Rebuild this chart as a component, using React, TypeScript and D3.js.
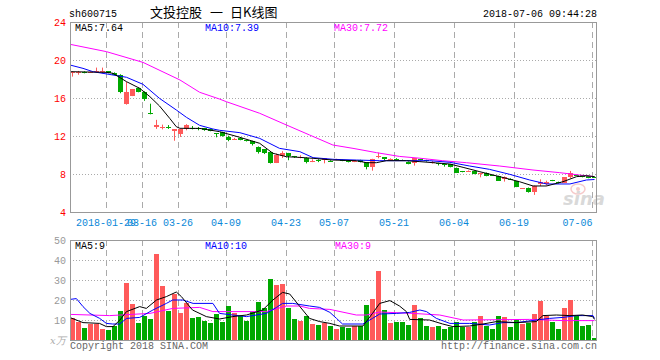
import React from "react";
import * as d3 from "d3";

// ---- data ----
const openP = [18.6,18.65,18.72,18.7,18.75,18.75,18.8,18.65,18.4,15.35,16.25,17.05,16.6,14.45,12.9,12.9,13.0,12.56,12.21,12.7,12.85,12.8,12.8,12.75,12.28,12.39,11.93,11.65,11.82,11.58,11.47,10.88,10.6,10.32,9.19,9.93,10.2,9.89,9.78,9.72,9.37,9.5,9.5,9.4,9.5,9.45,9.4,9.3,9.47,9.23,8.7,9.82,9.75,9.5,9.62,9.5,9.3,9.19,9.56,9.47,9.2,9.15,9.05,9.04,8.6,8.28,8.3,8.32,8.04,8.14,7.88,7.8,7.44,7.5,7.23,6.47,6.56,6.14,6.91,6.91,7.32,7.19,7.09,7.65,7.88,7.86,7.75,7.7];
const highP = [18.8,18.85,18.8,18.8,19.2,19.2,18.82,18.7,18.5,17.7,16.95,17.1,16.7,15.4,13.7,13.2,13.15,12.72,12.7,13.25,13.05,12.95,12.85,12.8,12.3,12.45,12.03,11.8,11.85,11.6,11.5,10.9,10.62,10.4,10.15,10.4,10.22,9.9,9.98,9.75,9.55,9.55,9.65,9.45,9.6,9.5,9.42,9.4,9.5,9.25,9.6,10.25,9.78,9.65,9.66,9.52,9.32,9.68,9.6,9.5,9.38,9.18,9.08,9.06,8.68,8.32,8.38,8.35,8.12,8.16,7.92,7.82,7.75,7.55,7.25,6.52,6.58,6.78,7.44,7.3,7.38,7.2,7.66,8.32,7.92,7.9,7.8,7.75];
const lowP = [18.25,18.45,18.6,18.65,18.7,18.6,18.6,18.4,16.5,15.3,16.2,16.6,15.7,14.28,12.75,12.7,12.75,11.5,11.9,12.6,12.7,12.6,12.55,12.5,11.86,11.93,11.45,11.58,11.55,11.42,11.0,10.15,10.1,9.1,9.15,9.68,9.45,9.7,9.65,9.12,9.25,9.25,9.12,9.3,9.45,9.35,9.22,9.25,9.22,8.49,8.35,9.65,9.4,9.45,9.5,9.4,9.02,8.88,9.45,9.3,9.1,8.9,8.77,8.7,8.1,8.18,8.25,7.98,7.65,7.76,7.8,7.28,7.2,7.42,6.62,6.45,6.04,5.8,6.74,6.77,7.25,7.0,7.08,7.55,7.8,7.65,7.55,7.58];
const closeP = [18.75,18.75,18.68,18.78,18.8,18.8,18.65,18.45,16.6,16.6,16.9,16.65,15.9,14.35,13.2,13.0,12.95,12.7,12.7,13.15,12.75,12.7,12.6,12.56,12.22,12.0,11.58,11.7,11.58,11.47,11.16,10.35,10.25,9.19,10.0,10.25,9.85,9.75,9.82,9.3,9.4,9.45,9.65,9.37,9.55,9.4,9.26,9.35,9.26,8.7,9.58,9.93,9.61,9.55,9.58,9.45,9.08,9.65,9.5,9.33,9.25,9.12,8.91,8.74,8.14,8.24,8.33,8.0,8.08,7.8,7.85,7.3,7.72,7.46,6.67,6.5,6.14,6.77,7.12,7.16,7.28,7.02,7.65,8.07,7.84,7.68,7.6,7.62];
const volume = [11.2,9.2,6.2,8.2,8.2,5.7,5.2,7.2,14.7,28.7,18,8.7,12.2,10.7,43.2,27.2,14.7,23.2,13.7,18.7,11.2,11.7,9.7,8.7,13.2,9.2,17.2,13.7,12.2,9.7,14.2,19.2,16.2,30.7,27.7,28.2,16.2,10.7,9.7,12.2,8.2,7.7,8.7,7.2,5.7,6.7,6.2,7.2,7.2,17.7,20.7,34.7,15.2,8.7,9.2,9.2,7.7,17.7,11.2,7.2,6.7,7.2,5.7,6.7,9.2,6.7,6.7,9.2,12.2,7.2,5.7,12.2,11.7,6.7,10.2,8.2,8.7,13.2,19.7,12.2,9.2,5.7,16.2,20.2,12.2,7.2,7.7,1.2];

// moving-average lines as [day index, value]
const ma5Price: [number, number][] = [[-0.4,18.77],[5.65,18.7],[6.75,18.6],[9,17.72],[11.2,17.02],[12.9,16.14],[14.5,15.16],[16.2,13.86],[17.3,12.98],[17.9,12.81],[21.2,12.8],[24.5,12.46],[27.9,11.86],[31.2,11.23],[33.4,10.18],[35.65,9.82],[37.9,9.75],[40.1,9.65],[43.4,9.47],[47.3,9.4],[49,9.19],[50.65,9.19],[52.3,9.4],[55.65,9.4],[57.9,9.3],[62.9,9.05],[65.1,8.7],[67.9,8.24],[71.2,7.72],[74.5,7.19],[76.75,6.74],[79,6.74],[81.75,7.19],[84,7.72],[85.65,7.82],[87,7.72]];
const ma10Price: [number, number][] = [[-0.4,19.47],[1.75,19.12],[3.4,18.77],[6.75,18.42],[9,18.18],[11.75,17.44],[14.5,15.96],[17.3,14.74],[19,13.96],[21.2,13.12],[23.4,12.74],[24.5,12.6],[27.9,12.35],[31.2,11.75],[34.5,10.7],[37.9,10.35],[40.1,9.72],[43.6,9.54],[47.3,9.47],[51.2,9.4],[56.75,9.4],[59.5,9.4],[62.9,9.23],[66.2,8.84],[69.5,8.49],[72.9,7.96],[76.2,7.37],[79,6.95],[82.9,6.95],[85.65,7.37],[87,7.42]];
const ma30Price: [number, number][] = [[-0.4,21.65],[5.65,20.88],[11.75,19.75],[17.9,17.9],[21.2,16.6],[24.5,15.89],[25.65,15.61],[31.2,14.39],[35.65,13.16],[39.5,12.11],[43.4,11.05],[46.75,10.7],[50.65,10.25],[54.5,9.85],[57.9,9.66],[61.7,9.4],[65.65,9.19],[71.2,8.84],[76.75,8.42],[81.2,8.14],[84.5,7.89],[87,7.72]];
const ma5Vol: [number, number][] = [[-0.4,11.2],[1.75,8.7],[4.5,8.3],[5.65,6.7],[6.75,6.7],[7.9,10],[9,14.2],[11.2,16.7],[12.3,15.8],[14,20],[15.65,21.7],[17.3,24],[18.15,21.7],[20,15],[22.3,11.7],[24.5,10.5],[26.7,11.7],[29,12.5],[31.7,15],[33.4,20],[35,23.8],[36.2,23],[37.9,16.7],[39.5,10.8],[41.2,9.2],[42.9,8.3],[44.5,7],[48.4,7],[50,13.3],[51.2,18.3],[52.9,19.7],[54.5,17],[55.65,14.2],[56.2,10.3],[59.5,10],[61.7,8],[63.4,6.7],[66.2,7],[68.4,8],[70.65,9.2],[74,8.7],[77.3,9.2],[78.4,12.2],[80.65,12.5],[82.9,12.2],[85,12.5],[86.7,11.7],[87,10.3]];
const ma10Vol: [number, number][] = [[-0.4,20.3],[0.65,20.7],[1.75,16.7],[2.9,13.3],[4.53,10.8],[5.65,8.3],[6.7,8],[7.87,8],[9,10.8],[11.2,11.3],[13.4,15],[15.65,18.3],[16.7,20],[18.4,20],[20.1,18.3],[23.4,18.3],[24.5,13.3],[26.7,12.5],[29,11.7],[32.3,13.3],[34,16.3],[35,18.3],[36.7,18.3],[39.5,17],[41.2,16.3],[42.9,13.8],[44,10.8],[45,8],[48.4,8],[50,10.8],[51.2,13],[54,13.3],[56.2,13.8],[57.9,15],[59,14.2],[60.65,10.8],[62.9,8.3],[66.2,8.3],[69.5,7.5],[71.75,8.7],[74,8.7],[77.3,10],[79.5,10.8],[81.75,11.3],[84,12.2],[86.75,12.2],[87,10.8]];
const ma30Vol: [number, number][] = [[-0.4,12.8],[6.2,12.2],[12.9,13.3],[16.7,15.8],[21.2,16.3],[23.4,14.2],[32.3,14.2],[35.65,17],[37.9,17],[39.5,15.8],[42.9,15.3],[47.3,12.5],[49,12.5],[51.2,14],[56.75,13.3],[61.2,12.5],[65.1,10],[76.2,10.3],[81.75,9.7],[87,9.7]];

const dateTickIdx = [6, 12, 18, 26, 36, 44, 54, 64, 74, 87];
const dateTickLabels = ["2018-01-29", "03-16", "03-26", "04-09", "04-23", "05-07", "05-21", "06-04", "06-19", "07-06"];
const priceTicks = [24, 20, 16, 12, 8, 4];
const volTicks = [50, 40, 30, 20, 10];

const MONO = "'Liberation Mono','DejaVu Sans Mono',monospace";
const CJK = "'Noto Sans CJK SC',sans-serif";
const UP = "#ff5a5a";
const DOWN = "#00a800";

export default function App() {
  const W = 660, H = 360;
  const L = 70, R = 597;
  const pTop = 22, pBot = 212, vTop = 240, vBot = 340;
  const N = closeP.length;
  const x = d3.scaleLinear().domain([0, N]).range([70, 70 + 6 * N]);
  const cx = (i: number) => x(i) + 2.5;
  const yP = d3.scaleLinear().domain([4, 24]).range([pBot, pTop]);
  const yV = d3.scaleLinear().domain([0, 50]).range([vBot, vTop]);
  const lineP = d3.line<[number, number]>().x(d => cx(d[0])).y(d => yP(d[1]));
  const lineV = d3.line<[number, number]>().x(d => cx(d[0])).y(d => yV(d[1]));
  const idx = d3.range(N);

  return (
    <svg width={W} height={H} style={{ position: "absolute", left: 0, top: 0, background: "#fff" }}>
      <defs>
        <clipPath id="cp"><rect x={L} y={pTop} width={R - L} height={pBot - pTop} /></clipPath>
        <clipPath id="cv"><rect x={L} y={vTop} width={R - L} height={vBot - vTop} /></clipPath>
      </defs>
      {/* header */}
      <text x={69} y={17} fontFamily={MONO} fontSize={10} fill="#000">sh600715</text>
      <text x={150} y={17} fontFamily={CJK} fontSize={13} fill="#000">文投控股</text>
      <text x={210} y={17} fontFamily={CJK} fontSize={13} fill="#000">一</text>
      <text x={230} y={17} fontFamily={CJK} fontSize={13} fill="#000">日K线图</text>
      <text x={597} y={17} textAnchor="end" fontFamily={MONO} fontSize={10} fill="#000">2018-07-06 09:44:28</text>

      {/* grids */}
      {priceTicks.filter(t => t !== 24 && t !== 4).map(t => (
        <line key={"ph" + t} x1={L} x2={R} y1={Math.round(yP(t)) + 0.5} y2={Math.round(yP(t)) + 0.5} stroke="#aaa" strokeDasharray="1,2" />
      ))}
      {volTicks.filter(t => t !== 50).map(t => (
        <line key={"vh" + t} x1={L} x2={R} y1={Math.round(yV(t)) + 0.5} y2={Math.round(yV(t)) + 0.5} stroke="#aaa" strokeDasharray="1,2" />
      ))}
      {dateTickIdx.map(i => (
        <g key={"vg" + i}>
          <line x1={x(i) + 0.5} x2={x(i) + 0.5} y1={pTop} y2={pBot} stroke="#aaa" strokeDasharray="6,4" />
          <line x1={x(i) + 0.5} x2={x(i) + 0.5} y1={vTop} y2={vBot} stroke="#aaa" strokeDasharray="6,4" />
        </g>
      ))}

      {/* watermark */}
      <g opacity={0.55}>
        <ellipse cx={578} cy={189} rx={7} ry={5} fill="none" stroke="#f0a0a0" strokeWidth={1.5} />
        <circle cx={578} cy={189} r={2} fill="#f0a0a0" />
        <text x={563} y={205} fontFamily="'DejaVu Sans',sans-serif" fontStyle="italic" fontWeight="bold" fontSize={18} fill="#bbb">sina</text>
      </g>

      {/* candles */}
      <g clipPath="url(#cp)">
        {idx.map(i => {
          const up = closeP[i] >= openP[i];
          const col = up ? UP : DOWN;
          const top = Math.round(yP(Math.max(openP[i], closeP[i])));
          const bot = Math.round(yP(Math.min(openP[i], closeP[i])));
          return (
            <g key={"c" + i}>
              <line x1={cx(i)} x2={cx(i)} y1={yP(highP[i])} y2={yP(lowP[i])} stroke={col} strokeWidth={1} />
              <rect x={x(i)} y={top} width={5} height={Math.max(1, bot - top)} fill={col} />
            </g>
          );
        })}
        <path d={lineP(ma30Price) || ""} fill="none" stroke="#ff00ff" strokeWidth={1} />
        <path d={lineP(ma10Price) || ""} fill="none" stroke="#0000ff" strokeWidth={1} />
        <path d={lineP(ma5Price) || ""} fill="none" stroke="#000" strokeWidth={1} />
      </g>

      {/* volume */}
      <g clipPath="url(#cv)">
        {idx.map(i => {
          const up = closeP[i] >= openP[i];
          const t = Math.round(yV(volume[i]));
          return <rect key={"v" + i} x={x(i)} y={t} width={5} height={vBot - t} fill={up ? UP : DOWN} />;
        })}
        <path d={lineV(ma30Vol) || ""} fill="none" stroke="#ff00ff" strokeWidth={1} />
        <path d={lineV(ma10Vol) || ""} fill="none" stroke="#0000ff" strokeWidth={1} />
        <path d={lineV(ma5Vol) || ""} fill="none" stroke="#000" strokeWidth={1} />
      </g>

      {/* borders */}
      <rect x={L + 0.5} y={pTop + 0.5} width={R - L - 1} height={pBot - pTop} fill="none" stroke="#999" />
      <rect x={L + 0.5} y={vTop + 0.5} width={R - L - 1} height={vBot - vTop} fill="none" stroke="#999" />

      {/* axis labels */}
      {priceTicks.map(t => (
        <text key={"pl" + t} x={66} y={yP(t) + 4} textAnchor="end" fontFamily={MONO} fontSize={10} fill="#ff0000">{t}</text>
      ))}
      {volTicks.map(t => (
        <text key={"vl" + t} x={66} y={yV(t) + 4} textAnchor="end" fontFamily={MONO} fontSize={10} fill="#999">{t}</text>
      ))}
      {dateTickIdx.map((i, k) => {
        const last = k === dateTickIdx.length - 1;
        return (
          <text key={"dl" + i} x={x(i) + (last ? 0.5 : 0)} y={226} textAnchor={last ? "end" : "middle"} fontFamily={MONO} fontSize={10} fill="#0a88d8">{dateTickLabels[k]}</text>
        );
      })}

      {/* legends */}
      <text x={75} y={31} fontFamily={MONO} fontSize={10} fill="#000">MA5:7.64</text>
      <text x={205} y={31} fontFamily={MONO} fontSize={10} fill="#0000ff">MA10:7.39</text>
      <text x={334} y={31} fontFamily={MONO} fontSize={10} fill="#ff00ff">MA30:7.72</text>
      <text x={75} y={249} fontFamily={MONO} fontSize={10} fill="#000">MA5:9</text>
      <text x={205} y={249} fontFamily={MONO} fontSize={10} fill="#0000ff">MA10:10</text>
      <text x={335} y={249} fontFamily={MONO} fontSize={10} fill="#ff00ff">MA30:9</text>

      {/* footer */}
      <text x={50} y={344} fontFamily="'DejaVu Serif',serif" fontStyle="italic" fontSize={10} fill="#aaa">x万</text>
      <text x={70} y={349} fontFamily={MONO} fontSize={10} fill="#666">Copyright 2018 SINA.COM</text>
      <text x={597} y={349} textAnchor="end" fontFamily={MONO} fontSize={10} fill="#666">http://finance.sina.com.cn</text>
    </svg>
  );
}
